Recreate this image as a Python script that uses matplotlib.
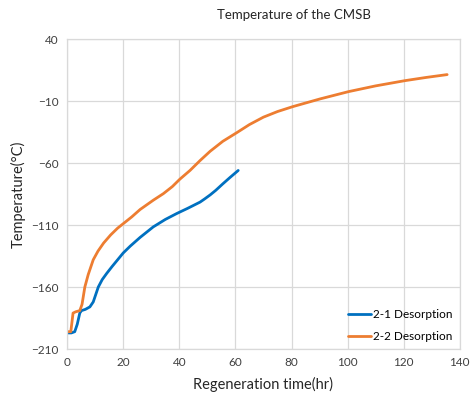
import matplotlib
matplotlib.use('Agg')
import matplotlib.pyplot as plt

plt.rcParams['font.family'] = ['Lato', 'DejaVu Sans']

# 2-1 Desorption (blue)
time_21 = [0.4, 1.5, 2.7, 3.6, 4.5, 5.1, 6.5, 8.1, 9.3, 10.2, 11.1, 12.5, 14.1, 16.0,
           18.0, 20.0, 22.5, 26.0, 30.7, 35.0, 39.0, 43.0, 47.4, 49.0, 51.0, 53.0,
           55.5, 58.0, 61.0]
temp_21 = [-197, -197, -196, -190, -181, -179, -178, -176, -172, -166, -160, -154, -149, -143.5,
           -138, -132.5, -127, -120, -111.5, -105.5, -100.8, -96.5, -91.5, -89, -85.7, -82,
           -76.8, -71.8, -66]

# 2-2 Desorption (orange)
time_22 = [0.0, 1.3, 2.1, 3.0, 4.5, 5.3, 6.3, 7.5, 9.3, 11.0, 13.0, 15.5, 18.0, 20.5,
           23.0, 26.0, 30.7, 34.3, 37.5, 40.2, 43.8, 47.4, 51.0, 55.5, 60.5, 65.0,
           70.0, 75.0, 80.5, 90.2, 100.4, 110.0, 120.4, 128.0, 135.5]
temp_22 = [-196, -196, -181, -180, -179, -174, -160, -150, -138, -131, -124.5, -118, -112.5, -108,
           -103.5, -97.5, -90, -84.7, -79, -73, -66, -58, -50.5, -42.5, -35.5, -29,
           -23, -18.5, -14.5, -8.3, -2.4, 2.2, 6.4, 9, 11.3]

x_ticks = [0, 20, 40, 60, 80, 100, 120, 140]
y_ticks = [-210, -160, -110, -60, -10, 40]

fig = plt.figure(figsize=(4.73, 3.98), dpi=100)
ax = fig.add_axes([0.142, 0.123, 0.830, 0.779])

ax.plot(time_21, temp_21, color='#0070C0', linewidth=2.0, label='2-1 Desorption',
        solid_capstyle='round', solid_joinstyle='round')
ax.plot(time_22, temp_22, color='#ED7D31', linewidth=2.0, label='2-2 Desorption',
        solid_capstyle='round', solid_joinstyle='round')

ax.set_xlim(0, 140)
ax.set_ylim(-210, 40)
ax.set_xticks(x_ticks)
ax.set_yticks(y_ticks)
ax.grid(True, color='#D9D9D9', linewidth=0.9)
ax.set_axisbelow(True)
for spine in ax.spines.values():
    spine.set_color('#D9D9D9')
    spine.set_linewidth(0.9)
ax.tick_params(length=0, labelsize=8.5, colors='#404040', pad=6)

ax.set_xlabel('Regeneration time(hr)', fontsize=10.5, color='#262626', labelpad=6)
ax.set_ylabel('Temperature(°C)', fontsize=10.5, color='#262626', labelpad=4)
fig.text(0.622, 0.962, 'Temperature of the CMSB', ha='center', va='center',
         fontsize=9.5, color='#262626')

ax.legend(loc='lower right', frameon=False, fontsize=8.5, handlelength=1.9,
          handletextpad=0.2, labelspacing=0.9, borderaxespad=0.2)

fig.savefig('out.png', dpi=100)
